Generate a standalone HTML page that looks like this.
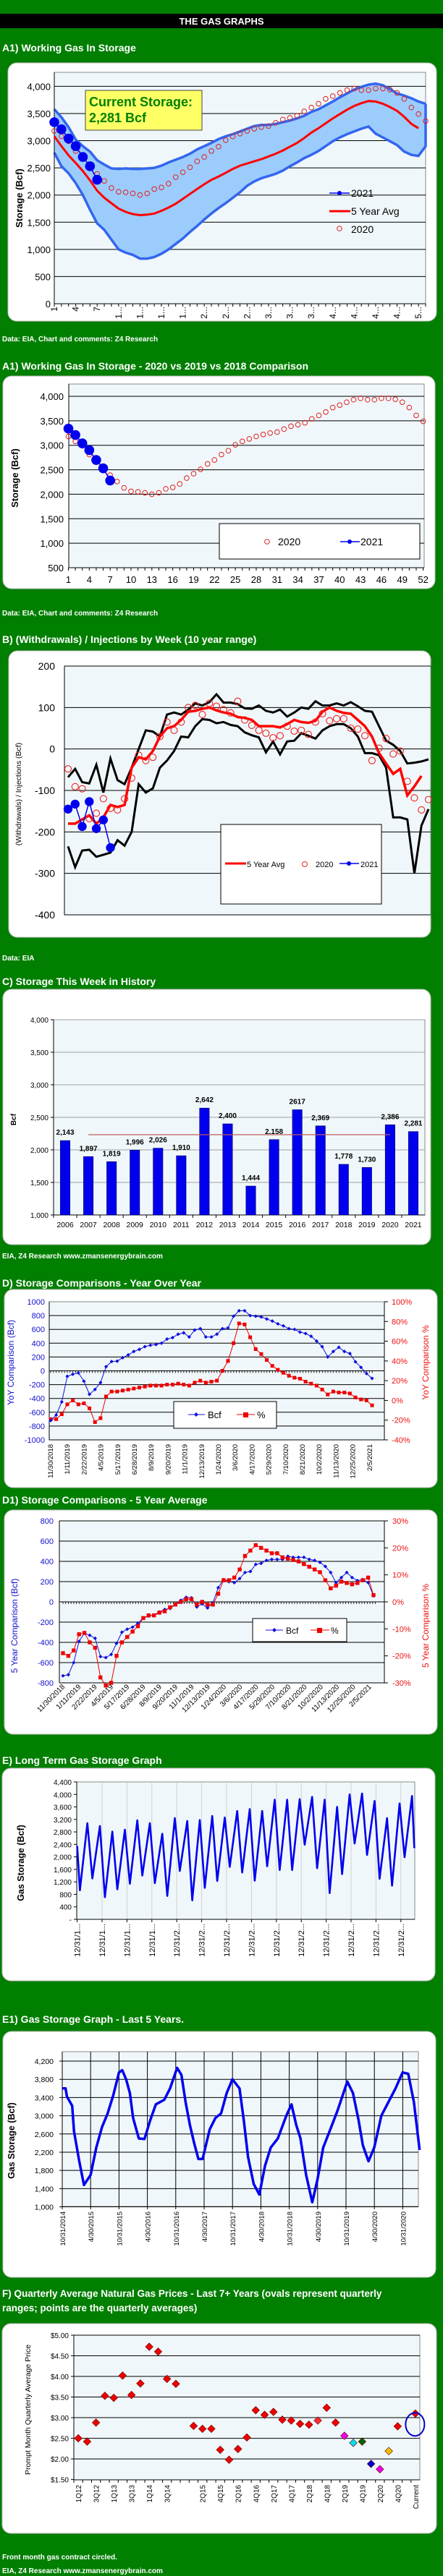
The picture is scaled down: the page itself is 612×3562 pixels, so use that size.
<!DOCTYPE html>
<html><head><meta charset="utf-8"><title>The Gas Graphs</title>
<style>
html,body{margin:0;padding:0;background:#017f01;}
svg{display:block;font-family:"Liberation Sans",Arial,sans-serif;}
</style></head>
<body>
<svg id="page" width="612" height="3562" viewBox="0 0 612 3562" xmlns="http://www.w3.org/2000/svg">
<rect x="0" y="0" width="612" height="3562" fill="#017f01"/>
<rect x="0" y="19" width="612" height="20" fill="#000"/>
<text x="306" y="34" fill="#fff" font-size="13" font-weight="bold" text-anchor="middle">THE GAS GRAPHS</text>

<g fill="#fff" font-weight="bold" font-size="14">
<text x="3" y="71">A1) Working Gas In Storage</text>
<text x="3" y="511">A1) Working Gas In Storage - 2020 vs 2019 vs 2018 Comparison</text>
<text x="3" y="889">B) (Withdrawals) / Injections by Week (10 year range)</text>
<text x="3" y="1362">C) Storage This Week in History</text>
<text x="3" y="1779">D) Storage Comparisons - Year Over Year</text>
<text x="3" y="2079">D1) Storage Comparisons - 5 Year Average</text>
<text x="3" y="2439">E) Long Term Gas Storage Graph</text>
<text x="3" y="2797">E1) Gas Storage Graph - Last 5 Years.</text>
<text x="3" y="3176" font-size="13.5">F) Quarterly Average Natural Gas Prices -  Last 7+ Years (ovals represent quarterly</text>
<text x="3" y="3196" font-size="13.5">ranges; points are the quarterly averages)</text>
</g>
<g fill="#fff" font-weight="bold" font-size="10">
<text x="3" y="472">Data: EIA, Chart and comments: Z4 Research</text>
<text x="3" y="851">Data: EIA, Chart and comments: Z4 Research</text>
<text x="3" y="1328">Data: EIA</text>
<text x="3" y="1740">EIA, Z4 Research  www.zmansenergybrain.com</text>
<text x="3" y="3539">Front month gas contract circled.</text>
<text x="3" y="3558">EIA, Z4 Research  www.zmansenergybrain.com</text>
</g>

<g fill="#fff" stroke="#bbb" stroke-width="1">
<rect x="11" y="87" width="592" height="357" rx="12"/>
<rect x="4" y="520" width="597" height="294" rx="12"/>
<rect x="12" y="900" width="583" height="396" rx="12"/>
<rect x="4" y="1368" width="591" height="353" rx="12"/>
<rect x="6" y="1783" width="598" height="274" rx="12"/>
<rect x="6" y="2088" width="598" height="310" rx="12"/>
<rect x="3" y="2445" width="598" height="294" rx="12"/>
<rect x="4" y="2809" width="598" height="340" rx="12"/>
<rect x="3" y="3213" width="600" height="290" rx="12"/>
</g>
<g fill="#f0f7fa" stroke="#888" stroke-width="1">
<rect x="75" y="100" width="513" height="320"/>
<rect x="95" y="531" width="491" height="254"/>
<rect x="89" y="921" width="506" height="344"/>
<rect x="74" y="1410" width="513" height="270"/>
<rect x="68" y="1800" width="463" height="191"/>
<rect x="82" y="2103" width="449" height="224"/>
<rect x="106" y="2464" width="467" height="190"/>
<rect x="86" y="2837" width="492" height="214"/>
<rect x="102" y="3229" width="478" height="200"/>
</g>

<g id="chart-a1"></g>
<g id="chart-a1b"></g>
<g id="chart-b"></g>
<g id="chart-c"></g>
<g id="chart-d"></g>
<g id="chart-d1"></g>
<g id="chart-e"></g>
<g id="chart-e1"></g>
<g id="chart-f"></g>
</svg>
<script>
// ---------- DATA ----------
const a1YTicks=[0,500,1000,1500,2000,2500,3000,3500,4000];
const a1XLabels=["1","4","7","1...","1...","1...","1...","2...","2...","2...","3...","3...","3...","4...","4...","4...","4...","5..."];
const a1Max=[3580,3430,3250,3020,2900,2800,2640,2560,2490,2480,2490,2480,2480,2490,2500,2540,2600,2650,2700,2760,2840,2900,2960,3030,3080,3120,3170,3220,3270,3290,3290,3310,3340,3370,3410,3460,3530,3580,3650,3720,3800,3870,3940,3990,4030,4050,4020,3950,3870,3830,3780,3720,3680];
const a1Min=[2780,2530,2400,2220,2000,1730,1480,1360,1180,1000,940,900,830,830,860,920,1000,1100,1200,1320,1430,1550,1660,1760,1850,1950,2050,2170,2250,2310,2350,2390,2450,2530,2600,2680,2740,2810,2900,2990,3060,3120,3170,3220,3260,3130,3060,2990,2920,2800,2740,2720,2900];
const a1Avg=[3080,2900,2730,2590,2440,2270,2080,1950,1850,1750,1690,1650,1630,1640,1660,1710,1770,1840,1930,2020,2110,2200,2280,2340,2410,2480,2540,2580,2620,2660,2710,2760,2820,2890,2960,3050,3150,3230,3320,3410,3490,3570,3640,3690,3730,3720,3680,3620,3550,3440,3310,3230];
const s2020=[3180,3080,2990,2810,2670,2540,2390,2260,2130,2060,2050,2030,2000,2030,2110,2140,2210,2330,2420,2510,2620,2700,2810,2890,3010,3080,3130,3180,3220,3250,3270,3330,3390,3420,3460,3540,3610,3680,3770,3820,3880,3930,3960,3930,3930,3960,3960,3940,3880,3770,3610,3490,3360];
const s2021=[3340,3210,3040,2900,2700,2530,2281];
const a1bYTicks=[500,1000,1500,2000,2500,3000,3500,4000];
const a1bXLabels=["1","4","7","10","13","16","19","22","25","28","31","34","37","40","43","46","49","52"];
const bYTicks=[-400,-300,-200,-100,0,100,200];
const b2021=[-145,-133,-187,-127,-192,-171,-238];
const b2020=[-48,-91,-96,-168,-155,-120,-143,-147,-120,-70,-15,-28,-20,30,65,45,65,100,105,83,110,103,95,87,115,70,57,45,38,27,32,55,43,45,35,65,85,68,73,73,50,48,32,-28,2,25,-12,-5,-78,-118,-147,-122];
const bAvg=[-180,-180,-170,-160,-180,-165,-135,-140,-135,-45,-20,-25,-5,30,50,55,70,90,92,97,100,93,88,85,77,75,70,55,55,55,52,60,70,65,63,68,90,100,92,87,85,70,55,30,-10,-35,-60,-48,-112,-90,-65];
const bMax=[-68,-48,-80,-83,-38,-105,-23,-75,-85,-45,0,45,42,30,83,88,83,95,110,105,113,132,112,112,108,98,97,105,92,88,95,78,88,100,97,115,105,105,110,105,113,103,92,90,55,20,10,-5,-35,-33,-30,-25];
const bMin=[-235,-285,-245,-243,-260,-255,-250,-220,-233,-200,-85,-105,-95,-45,-28,-5,30,28,55,72,70,62,65,58,55,40,33,28,-8,18,-13,18,20,38,32,25,45,55,60,60,50,30,-10,-10,-15,-45,-165,-165,-170,-300,-185,-145];
const cYears=["2006","2007","2008","2009","2010","2011","2012","2013","2014","2015","2016","2017","2018","2019","2020","2021"];
const cValues=[2143,1897,1819,1996,2026,1910,2642,2400,1444,2158,2617,2369,1778,1730,2386,2281];
const cLabels=["2,143","1,897","1,819","1,996","2,026","1,910","2,642","2,400","1,444","2,158","2617","2,369","1,778","1,730","2,386","2,281"];
const cAvg=2233;
const cYTicks=[1000,1500,2000,2500,3000,3500,4000];
const dDates=["11/30/2018","1/11/2019","2/22/2019","4/5/2019","5/17/2019","6/28/2019","8/9/2019","9/20/2019","11/1/2019","12/13/2019","1/24/2020","3/6/2020","4/17/2020","5/29/2020","7/10/2020","8/21/2020","10/2/2020","11/13/2020","12/25/2020","2/5/2021"];
const dYoyBcf=[-720,-640,-450,-80,-50,-30,-150,-340,-270,-170,60,135,140,190,230,280,310,350,370,380,400,460,480,530,550,490,590,610,490,490,530,610,620,790,870,870,800,790,780,750,720,680,650,610,600,560,540,500,430,350,200,280,340,280,250,130,50,-40,-110];
const dYoyPct=[-19,-19,-14,-4,0,-4,-3,-8,-22,-18,4,9,9,10,11,12,13,14,15,15,15,16,16,17,16,15,18,20,18,19,20,30,40,58,78,77,64,52,47,41,35,31,28,25,23,22,19,17,15,11,6,9,8,8,7,3,1,0,-5];
const dLTicks=[-1000,-800,-600,-400,-200,0,200,400,600,800,1000];
const dRTicks=[-40,-20,0,20,40,60,80,100];
const d1Bcf=[-730,-720,-600,-390,-310,-330,-360,-540,-550,-520,-410,-300,-270,-250,-210,-160,-140,-130,-100,-75,-65,-25,15,45,40,-50,-20,-60,-10,140,220,200,190,230,290,300,370,380,410,420,420,420,450,440,440,440,420,410,390,350,290,190,240,290,240,210,220,190,60];
const d1Pct=[-19,-20,-18,-12,-11.5,-15,-17,-28,-31,-30,-20,-15,-13,-11,-9,-6,-5,-5,-4,-3.5,-2,-1,0,1,1,-1,0,-1,-1,3,8,8,9,12,17,19,21,20,19,18,18,16.5,16,15.5,15,14,13,12,11,8,5,6,7.5,7,6.5,7,8,9,2.5];
const d1LTicks=[-800,-600,-400,-200,0,200,400,600,800];
const d1RTicks=[-30,-20,-10,0,10,20,30];
const eStart=2350, eEnd=2280;
const eTroughs=[930,1310,710,960,1140,1400,1160,750,1550,610,1010,1230,1680,1500,1240,1700,1580,1580,2390,1640,840,1450,2430,2060,1300,1080,1990];
const ePeaks=[3080,2990,2810,2870,3170,3080,2740,3240,3150,3180,3310,3260,3470,3530,3470,3830,3830,3850,3920,3830,3600,4000,4030,3790,3240,3710,3950];
const eYTicks=[0,400,800,1200,1600,2000,2400,2800,3200,3600,4000,4400];
const eXLabels=["12/31/1...","12/31/1...","12/31/1...","12/31/1...","12/31/2...","12/31/2...","12/31/2...","12/31/2...","12/31/2...","12/31/2...","12/31/2...","12/31/2...","12/31/2...","12/31/2..."];
const e1Months=[0,0.7,1,2.1,2.5,3.6,4.6,6,7.2,8.4,9.6,10.8,12,12.7,13.5,14.3,15,16.2,17.4,18.6,19.8,21.6,22.8,24.3,25.2,26.1,27,27.9,28.8,29.7,31.2,32.4,33.6,34.8,36,37.5,38.4,39.3,40.5,41.7,42.9,44.1,45.6,47.4,48.5,49.5,50.4,51.6,52.9,54,55.2,56.7,58.2,60.3,61.5,62.7,63.6,64.8,66,67.5,69,70.5,72,73.2,74.4,75.6];
const e1Values=[3600,3600,3420,3220,2650,2000,1480,1700,2300,2750,3050,3450,3950,4000,3800,3500,2950,2500,2490,2900,3250,3350,3600,4050,3900,3300,2800,2400,2050,2050,2700,2950,3050,3500,3800,3600,2900,2100,1500,1270,1900,2300,2500,3000,3250,2800,2500,1700,1100,1600,2300,2700,3100,3750,3500,2900,2350,2000,2300,3000,3300,3600,3950,3920,3300,2250];
const e1YTicks=[1000,1400,1800,2200,2600,3000,3400,3800,4200];
const e1XLabels=["10/31/2014","4/30/2015","10/31/2015","4/30/2016","10/31/2016","4/30/2017","10/31/2017","4/30/2018","10/31/2018","4/30/2019","10/31/2019","4/30/2020","10/31/2020"];
const fCategories=["1Q12","2Q12","3Q12","4Q12","1Q13","2Q13","3Q13","4Q13","1Q14","2Q14","3Q14","4Q14","","1Q15","2Q15","3Q15","4Q15","1Q16","2Q16","3Q16","4Q16","1Q17","2Q17","3Q17","4Q17","1Q18","2Q18","3Q18","4Q18","1Q19","2Q19","3Q19","4Q19","1Q20","2Q20","3Q20","4Q20","","Current"];
const fPrices=[2.50,2.42,2.88,3.53,3.48,4.02,3.55,3.83,4.72,4.60,3.94,3.82,null,2.80,2.73,2.73,2.22,1.98,2.24,2.52,3.18,3.07,3.14,2.95,2.93,2.85,2.83,2.93,3.24,2.88,2.56,2.39,2.42,1.88,1.75,2.19,2.79,null,3.10];
const fColors={27:"#ff3030",30:"#ee00ee",31:"#00e0ee",32:"#006400",33:"#0000cc",34:"#ee00ee",35:"#f0c000"};
const fYTicks=[1.5,2,2.5,3,3.5,4,4.5,5];

// ---------- HELPERS ----------
const NS='http://www.w3.org/2000/svg';
function mk(tag,attrs,parent){const e=document.createElementNS(NS,tag);for(const k in attrs)e.setAttribute(k,attrs[k]);parent.appendChild(e);return e;}
function tx(s,attrs,parent){const e=mk('text',attrs,parent);e.textContent=s;return e;}
function lin(d0,d1,r0,r1){return v=>r0+(v-d0)*(r1-r0)/(d1-d0);}
function fmt(v){return v.toLocaleString('en-US');}
function pl(arr,xf,yf){return arr.map((v,i)=>xf(i).toFixed(1)+','+yf(v).toFixed(1)).join(' ');}
function diamond(x,y,r){return `${x},${y-r} ${x+r},${y} ${x},${y+r} ${x-r},${y}`;}

// ---------- A1 ----------
(function(){
const g=document.getElementById('chart-a1');
const X=i=>75+i*(513/52), Y=lin(0,4000,420,119.4);
a1YTicks.forEach(v=>{
 const l=mk('line',{x1:75,x2:588,y1:Y(v),y2:Y(v),stroke:'#000'},g);
 
 
 const t=tx(fmt(v),{x:70,y:Y(v)+5,'text-anchor':'end','font-size':13},g);
 
 
});
for(let i=0;i<53;i++){mk('line',{x1:X(i),x2:X(i),y1:420,y2:424,stroke:'#000'},g);}
a1XLabels.forEach((s,k)=>{const x=X(k*3)+4;
 const t=tx(s,{x:x,y:424,'text-anchor':'end','font-size':12,transform:`rotate(-90 ${x} 424)`},g);
 
 });
const band=mk('polygon',{points:pl(a1Max,X,Y)+' '+a1Min.map((v,i)=>X(i)+','+Y(v)).reverse().join(' '),fill:'#9cccfc'},g);


const mx=mk('polyline',{points:pl(a1Max,X,Y),fill:'none',stroke:'#3366ee','stroke-width':3.5},g);


const mn=mk('polyline',{points:pl(a1Min,X,Y)+` ${X(52)},${Y(a1Max[52])}`,fill:'none',stroke:'#3366ee','stroke-width':3.5},g);


mk('line',{x1:75,x2:75,y1:100,y2:420,stroke:'#000'},g);
const av=mk('polyline',{points:pl(a1Avg,X,Y),fill:'none',stroke:'#ff0000','stroke-width':3},g);


s2020.forEach((v,i)=>{const c=mk('circle',{cx:X(i),cy:Y(v),r:3.3,fill:'none',stroke:'#e02020','stroke-width':1},g);
 
 });
const l21=mk('polyline',{points:pl(s2021,X,Y),fill:'none',stroke:'#0000ee','stroke-width':1.5},g);


s2021.forEach((v,i)=>{const c=mk('circle',{cx:X(i),cy:Y(v),r:6.8,fill:'#0000ee'},g);
 
 });
const box=mk('rect',{x:118,y:125,width:161,height:55,fill:'#ffff66',stroke:'#444'},g);


tx('Current Storage:',{x:123,y:147,fill:'#008000','font-size':18,'font-weight':'bold'},g);
tx('2,281 Bcf',{x:123,y:169,fill:'#008000','font-size':18,'font-weight':'bold'},g);
const yt=tx('Storage (Bcf)',{x:31,y:274,'text-anchor':'middle','font-size':13,'font-weight':'bold',transform:'rotate(-90 31 274)'},g);


// legend
mk('line',{x1:455,x2:483,y1:267,y2:267,stroke:'#0000ee','stroke-width':1.5},g);
mk('circle',{cx:469,cy:267,r:3,fill:'#0000ee'},g);
tx('2021',{x:485,y:272,'font-size':14},g);
mk('line',{x1:455,x2:484,y1:292,y2:292,stroke:'#ff0000','stroke-width':3},g);
tx('5 Year Avg',{x:485,y:297,'font-size':14},g);
mk('circle',{cx:469,cy:316,r:3.3,fill:'none',stroke:'#e02020'},g);
const lg=tx('2020',{x:485,y:322,'font-size':14},g);


})();

// ---------- A1b ----------
(function(){
const g=document.getElementById('chart-a1b');
const X=i=>94.5+i*9.61, Y=lin(500,4000,785,548);
a1bYTicks.forEach(v=>{
 const l=mk('line',{x1:95,x2:586,y1:Y(v),y2:Y(v),stroke:'#000'},g);
 
 
 tx(fmt(v),{x:88,y:Y(v)+5,'text-anchor':'end','font-size':13},g);
});
mk('line',{x1:95,x2:95,y1:531,y2:785,stroke:'#000'},g);
for(let i=0;i<52;i++){mk('line',{x1:X(i),x2:X(i),y1:785,y2:789,stroke:'#000'},g);}
a1bXLabels.forEach((s,k)=>{const t=tx(s,{x:X(k*3),y:806,'text-anchor':'middle','font-size':13},g);
 
 });
s2020.slice(0,52).forEach((v,i)=>{const c=mk('circle',{cx:X(i),cy:Y(v),r:3.3,fill:'none',stroke:'#e02020'},g);
 
 });
mk('polyline',{points:pl(s2021,X,Y),fill:'none',stroke:'#0000ee','stroke-width':1.5},g);
s2021.forEach((v,i)=>{const c=mk('circle',{cx:X(i),cy:Y(v),r:6.8,fill:'#0000ee'},g);
 
 });
tx('Storage (Bcf)',{x:25,y:661,'text-anchor':'middle','font-size':13,'font-weight':'bold',transform:'rotate(-90 25 661)'},g);
const lb=mk('rect',{x:303,y:724,width:277,height:49,fill:'#fff',stroke:'#000'},g);


mk('circle',{cx:369,cy:749,r:3.3,fill:'none',stroke:'#e02020'},g);
tx('2020',{x:384,y:754,'font-size':14},g);
mk('line',{x1:470,x2:497,y1:749,y2:749,stroke:'#0000ee','stroke-width':1.5},g);
mk('circle',{cx:483,cy:749,r:3,fill:'#0000ee'},g);
tx('2021',{x:498,y:754,'font-size':14},g);
})();

// ---------- B ----------
(function(){
const g=document.getElementById('chart-b');
const X=i=>94+i*(498/51), Y=lin(-400,200,1265,921);
bYTicks.forEach(v=>{
 const l=mk('line',{x1:89,x2:595,y1:Y(v),y2:Y(v),stroke:'#000'},g);
 
 
 tx(String(v),{x:76,y:Y(v)+5,'text-anchor':'end','font-size':14},g);
});
mk('line',{x1:89,x2:89,y1:921,y2:1265,stroke:'#000'},g);
const hi=mk('polyline',{points:pl(bMax,X,Y),fill:'none',stroke:'#000','stroke-width':3},g);


const lo=mk('polyline',{points:pl(bMin,X,Y),fill:'none',stroke:'#000','stroke-width':3},g);


const av=mk('polyline',{points:pl(bAvg,X,Y),fill:'none',stroke:'#ff0000','stroke-width':3.5},g);


b2020.forEach((v,i)=>{const c=mk('circle',{cx:X(i),cy:Y(v),r:4.5,fill:'none',stroke:'#ee2020','stroke-width':1.1},g);
 
 });
const l21=mk('polyline',{points:pl(b2021,X,Y),fill:'none',stroke:'#0000ee','stroke-width':1.5},g);


b2021.forEach((v,i)=>{const c=mk('circle',{cx:X(i),cy:Y(v),r:6.2,fill:'#0000ee'},g);
 
 });
tx('(Withdrawals) / Injections (Bcf)',{x:29,y:1098,'text-anchor':'middle','font-size':10.5,transform:'rotate(-90 29 1098)'},g);
const lb=mk('rect',{x:305,y:1140,width:222,height:110,fill:'#fff',stroke:'#000'},g);


mk('line',{x1:311,x2:340,y1:1194,y2:1194,stroke:'#ff0000','stroke-width':3},g);
tx('5 Year Avg',{x:341,y:1199,'font-size':11},g);
mk('circle',{cx:421,cy:1195,r:3.5,fill:'none',stroke:'#ee2020'},g);
tx('2020',{x:436,y:1199,'font-size':11},g);
mk('line',{x1:469,x2:496,y1:1194,y2:1194,stroke:'#0000ee','stroke-width':1.5},g);
mk('circle',{cx:482,cy:1194,r:3,fill:'#0000ee'},g);
tx('2021',{x:498,y:1199,'font-size':11},g);
})();

// ---------- C ----------
(function(){
const g=document.getElementById('chart-c');
const bw=513/16, X=i=>74+(i+0.5)*bw, Y=lin(1000,4000,1680,1410);
cYTicks.forEach(v=>{
 const l=mk('line',{x1:74,x2:587,y1:Y(v),y2:Y(v),stroke:'#a0a0a0'},g);
 
 
 mk('line',{x1:70,x2:74,y1:Y(v),y2:Y(v),stroke:'#000'},g);
 tx(fmt(v),{x:67,y:Y(v)+4,'text-anchor':'end','font-size':10},g);
});
mk('line',{x1:74,x2:74,y1:1410,y2:1680,stroke:'#000'},g);
mk('line',{x1:74,x2:587,y1:1680,y2:1680,stroke:'#000'},g);
cValues.forEach((v,i)=>{
 const b=mk('rect',{x:X(i)-6.7,y:Y(v),width:13.4,height:1680-Y(v),fill:'#0000ee',stroke:'#000060','stroke-width':0.6},g);
 
 
 const t=tx(cLabels[i],{x:X(i),y:Y(v)-8,'text-anchor':'middle','font-size':10,'font-weight':'bold'},g);
 
 
 const yl=tx(cYears[i],{x:X(i),y:1697,'text-anchor':'middle','font-size':10.5},g);
 
 
 mk('line',{x1:74+i*bw,x2:74+i*bw,y1:1680,y2:1684,stroke:'#000'},g);
});
const al=mk('line',{x1:X(1),x2:X(14),y1:Y(cAvg),y2:Y(cAvg),stroke:'#c06060','stroke-width':1.3},g);


tx('Bcf',{x:22,y:1548,'text-anchor':'middle','font-size':10,'font-weight':'bold',transform:'rotate(-90 22 1548)'},g);
})();

// ---------- D ----------
(function(){
const g=document.getElementById('chart-d');
const X=i=>70+i*(444/58), YL=lin(-1000,1000,1991,1800), YR=lin(-40,100,1991,1800);
dLTicks.forEach(v=>{
 if(v>-1000&&v<1000){const l=mk('line',{x1:68,x2:531,y1:YL(v),y2:YL(v),stroke:'#000'},g);
 
 }
 tx(String(v),{x:62,y:YL(v)+4,'text-anchor':'end','font-size':11,fill:'#1010cc'},g);
});
dRTicks.forEach(v=>{mk('line',{x1:531,x2:536,y1:YR(v),y2:YR(v),stroke:'#000'},g);
 tx(v+'%',{x:541,y:YR(v)+4,'font-size':11,fill:'#ee1010'},g);});
mk('line',{x1:68,x2:68,y1:1800,y2:1991,stroke:'#000'},g);
mk('line',{x1:531,x2:531,y1:1800,y2:1991,stroke:'#000'},g);
mk('line',{x1:68,x2:531,y1:1991,y2:1991,stroke:'#000'},g);
for(let w=0;w<=116;w++){const x=70+w*3.83;mk('line',{x1:x,x2:x,y1:YL(0),y2:YL(0)+3,stroke:'#000','stroke-width':0.8},g);}
dDates.forEach((s,k)=>{const x=70+k*23.2+3;
 const t=tx(s,{x:x,y:1997,'text-anchor':'end','font-size':9.5,transform:`rotate(-90 ${x} 1997)`},g);
 
 });
const lp=mk('polyline',{points:pl(dYoyPct,X,YR),fill:'none',stroke:'#ee0000','stroke-width':1},g);


dYoyPct.forEach((v,i)=>{const r=mk('rect',{x:X(i)-2.5,y:YR(v)-2.5,width:5,height:5,fill:'#ee0000'},g);
 
 });
const lb=mk('polyline',{points:pl(dYoyBcf,X,YL),fill:'none',stroke:'#1010dd','stroke-width':1},g);


dYoyBcf.forEach((v,i)=>{const p=mk('polygon',{points:diamond(X(i),YL(v),2.6),fill:'#1010dd'},g);
 
 });
tx('YoY Comparison (Bcf)',{x:19,y:1884,'text-anchor':'middle','font-size':12,fill:'#1010cc',transform:'rotate(-90 19 1884)'},g);
tx('YoY Comparison %',{x:592,y:1884,'text-anchor':'middle','font-size':12,fill:'#ee1010',transform:'rotate(-90 592 1884)'},g);
const lg=mk('rect',{x:240,y:1938,width:142,height:37,fill:'#fff',stroke:'#000'},g);


mk('line',{x1:260,x2:283,y1:1956,y2:1956,stroke:'#1010dd'},g);
mk('polygon',{points:diamond(271,1956,3),fill:'#1010dd'},g);
tx('Bcf',{x:287,y:1961,'font-size':13},g);
mk('line',{x1:327,x2:352,y1:1956,y2:1956,stroke:'#ee0000'},g);
mk('rect',{x:336,y:1953,width:7,height:7,fill:'#ee0000'},g);
tx('%',{x:355,y:1961,'font-size':13},g);
})();

// ---------- D1 ----------
(function(){
const g=document.getElementById('chart-d1');
const X=i=>87+i*(429/58), YL=lin(-800,800,2327,2103), YR=lin(-30,30,2327,2103);
d1LTicks.forEach(v=>{
 const l=mk('line',{x1:82,x2:531,y1:YL(v),y2:YL(v),stroke:'#000'},g);
 
 
 tx(String(v),{x:74,y:YL(v)+4,'text-anchor':'end','font-size':11,fill:'#1010cc'},g);
});
d1RTicks.forEach(v=>{mk('line',{x1:531,x2:536,y1:YR(v),y2:YR(v),stroke:'#000'},g);
 tx(v+'%',{x:542,y:YR(v)+4,'font-size':11,fill:'#ee1010'},g);});
mk('line',{x1:82,x2:82,y1:2103,y2:2327,stroke:'#000'},g);
mk('line',{x1:531,x2:531,y1:2103,y2:2327,stroke:'#000'},g);
for(let w=0;w<=116;w++){const x=87+w*3.72;mk('line',{x1:x,x2:x,y1:YL(0),y2:YL(0)+3,stroke:'#000','stroke-width':0.8},g);}
dDates.forEach((s,k)=>{const x=90+k*22.3;
 const t=tx(s,{x:x,y:2333,'text-anchor':'end','font-size':10,transform:`rotate(-45 ${x} 2333)`},g);
 
 });
const lb=mk('polyline',{points:pl(d1Bcf,X,YL),fill:'none',stroke:'#1010dd','stroke-width':1},g);


d1Bcf.forEach((v,i)=>{const p=mk('polygon',{points:diamond(X(i),YL(v),2.6),fill:'#1010dd'},g);
 
 });
const lp=mk('polyline',{points:pl(d1Pct,X,YR),fill:'none',stroke:'#ee0000','stroke-width':1},g);


d1Pct.forEach((v,i)=>{const r=mk('rect',{x:X(i)-2.7,y:YR(v)-2.7,width:5.4,height:5.4,fill:'#ee0000'},g);
 
 });
tx('5 Year Comparison (Bcf)',{x:24,y:2248,'text-anchor':'middle','font-size':12,fill:'#1010cc',transform:'rotate(-90 24 2248)'},g);
tx('5 Year Comparison %',{x:592,y:2248,'text-anchor':'middle','font-size':12,fill:'#ee1010',transform:'rotate(-90 592 2248)'},g);
const lg=mk('rect',{x:349,y:2238,width:130,height:32,fill:'#fff',stroke:'#000'},g);


mk('line',{x1:367,x2:391,y1:2254,y2:2254,stroke:'#1010dd'},g);
mk('polygon',{points:diamond(379,2254,3),fill:'#1010dd'},g);
tx('Bcf',{x:395,y:2259,'font-size':12},g);
mk('line',{x1:429,x2:455,y1:2254,y2:2254,stroke:'#ee0000'},g);
mk('rect',{x:438,y:2251,width:7,height:7,fill:'#ee0000'},g);
tx('%',{x:457,y:2259,'font-size':12},g);
})();

// ---------- E ----------
(function(){
const g=document.getElementById('chart-e');
const X=t=>106.6+t*17.25, Y=lin(0,4400,2654,2464);
eXLabels.forEach((s,k)=>{const x=106.6+k*34.4;
 if(k>0){mk('line',{x1:x,x2:x,y1:2464,y2:2654,stroke:'#d0d0d0'},g);}
 mk('line',{x1:x,x2:x,y1:2654,y2:2658,stroke:'#000'},g);
 const t=tx(s,{x:x+4,y:2660,'text-anchor':'end','font-size':11,transform:`rotate(-90 ${x+4} 2660)`},g);
 
 });
eYTicks.forEach(v=>{mk('line',{x1:102,x2:106,y1:Y(v),y2:Y(v),stroke:'#000'},g);
 const t=tx(v===0?'-':fmt(v),{x:99,y:Y(v)+4,'text-anchor':'end','font-size':10},g);
 
 });
mk('line',{x1:106,x2:106,y1:2464,y2:2654,stroke:'#000'},g);
mk('line',{x1:106,x2:573,y1:2654,y2:2654,stroke:'#000'},g);
let p=[[X(0),Y(eStart)]];
ePeaks.forEach((v,k)=>{p.push([X(k+0.22),Y(eTroughs[k])]);p.push([X(k+0.82),Y(v)]);});
p.push([X(27),Y(eEnd)]);
const ln=mk('polyline',{points:p.map(q=>q[0].toFixed(1)+','+q[1].toFixed(1)).join(' '),fill:'none',stroke:'#0000ee','stroke-width':2.6,'stroke-linejoin':'round'},g);


tx('Gas  Storage (Bcf)',{x:33,y:2576,'text-anchor':'middle','font-size':12.5,'font-weight':'bold',transform:'rotate(-90 33 2576)'},g);
})();

// ---------- E1 ----------
(function(){
const g=document.getElementById('chart-e1');
const X=m=>86+m*6.53, Y=lin(1000,4200,3051.5,2850);
e1YTicks.forEach(v=>{const l=mk('line',{x1:82,x2:578,y1:Y(v),y2:Y(v),stroke:'#000'},g);
 
 
 tx(fmt(v),{x:74,y:Y(v)+4,'text-anchor':'end','font-size':10.5},g);});
e1XLabels.forEach((s,k)=>{const x=86+k*39.2;
 mk('line',{x1:x,x2:x,y1:2837,y2:3055,stroke:'#000'},g);
 const t=tx(s,{x:x+4,y:3058,'text-anchor':'end','font-size':9.5,transform:`rotate(-90 ${x+4} 3058)`},g);
 
 });
const ln=mk('polyline',{points:e1Values.map((v,i)=>X(e1Months[i]).toFixed(1)+','+Y(v).toFixed(1)).join(' '),fill:'none',stroke:'#0000ee','stroke-width':3.5,'stroke-linejoin':'round'},g);


tx('Gas Storage (Bcf)',{x:20,y:2960,'text-anchor':'middle','font-size':12.5,'font-weight':'bold',transform:'rotate(-90 20 2960)'},g);
})();

// ---------- F ----------
(function(){
const g=document.getElementById('chart-f');
const bw=478/39, X=i=>102+(i+0.5)*bw, Y=lin(1.5,5,3428.6,3229);
fYTicks.forEach(v=>{if(v>1.5){const l=mk('line',{x1:102,x2:580,y1:Y(v),y2:Y(v),stroke:'#000'},g);
 
 }
 mk('line',{x1:98,x2:102,y1:Y(v),y2:Y(v),stroke:'#000'},g);
 tx('$'+v.toFixed(2),{x:95,y:Y(v)+4,'text-anchor':'end','font-size':10},g);});
mk('line',{x1:102,x2:102,y1:3229,y2:3429,stroke:'#000'},g);
mk('line',{x1:102,x2:580,y1:3429,y2:3429,stroke:'#000'},g);
fCategories.forEach((s,i)=>{mk('line',{x1:102+i*bw,x2:102+i*bw,y1:3429,y2:3433,stroke:'#000'},g);
 if(i%2===0&&s){const x=X(i)+4;
 const t=tx(s,{x:x,y:3436,'text-anchor':'end','font-size':10,transform:`rotate(-90 ${x} 3436)`},g);
 
 }});
fPrices.forEach((v,i)=>{if(v===null)return;
 const p=mk('polygon',{points:diamond(X(i),Y(v),5.3),fill:fColors[i]||'#ee0000',stroke:'#600','stroke-width':0.6},g);
 
 });
const cur=fCategories.length-1;
const ov=mk('ellipse',{cx:X(cur)-0.5,cy:Y(fPrices[cur])+15,rx:13,ry:16,fill:'none',stroke:'#0000cc','stroke-width':2},g);


tx('Prompt Month Quarterly Average Price',{x:42,y:3332,'text-anchor':'middle','font-size':10.5,transform:'rotate(-90 42 3332)'},g);
})();
</script>
</body></html>
